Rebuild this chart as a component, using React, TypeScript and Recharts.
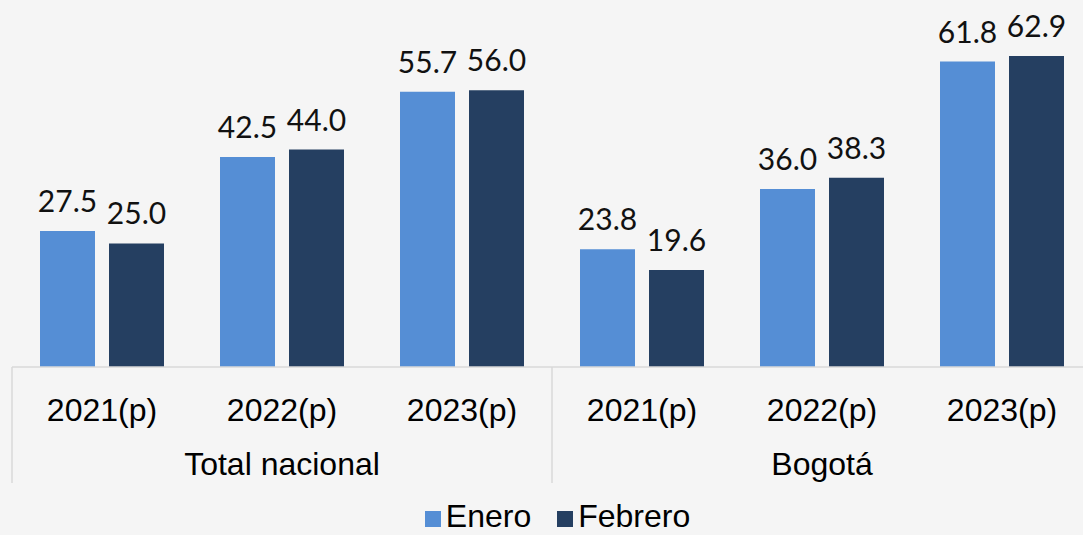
import React from 'react';
import { BarChart, Bar, XAxis, YAxis, Legend, LabelList } from 'recharts';

const years = ['2021(p)', '2022(p)', '2023(p)', '2021(p)', '2022(p)', '2023(p)'];
const groups = ['Total nacional', 'Total nacional', 'Total nacional', 'Bogotá', 'Bogotá', 'Bogotá'];
const enero = [27.5, 42.5, 55.7, 23.8, 36.0, 61.8];
const febrero = [25.0, 44.0, 56.0, 19.6, 38.3, 62.9];
const seriesNames = ['Enero', 'Febrero'];
const colors = ['#558ED5', '#253F61'];

const data = years.map((y, i) => ({ id: i, year: y, group: groups[i], enero: enero[i], febrero: febrero[i] }));

const AXIS_FONT = '"Liberation Sans", Arial, sans-serif';

const Tick = (props: any) => {
  const { x, y, index, payload } = props;
  const half = payload && payload.offset ? payload.offset : 90;
  const els: any[] = [];
  els.push(
    <text key="yr" x={x} y={y + 54} textAnchor="middle" fontFamily={AXIS_FONT} fontSize={32} fill="#000">
      {years[index]}
    </text>
  );
  if (index % 3 === 1) {
    els.push(
      <text key="gr" x={x} y={y + 108} textAnchor="middle" fontFamily={AXIS_FONT} fontSize={32} fill="#000">
        {groups[index]}
      </text>
    );
  }
  if (index % 3 === 0) {
    els.push(<line key="l0" x1={x - half} x2={x - half} y1={y} y2={y + 116} stroke="#D9D9D9" strokeWidth={1.5} />);
  }
  if (index === years.length - 1) {
    els.push(<line key="l1" x1={x + half} x2={x + half} y1={y} y2={y + 116} stroke="#D9D9D9" strokeWidth={1.5} />);
  }
  return <g>{els}</g>;
};

const LegendContent = () => (
  <div style={{ height: 52, display: 'flex', justifyContent: 'center', paddingLeft: 11, boxSizing: 'border-box' }}>
    {seriesNames.map((n, i) => (
      <div key={n} style={{ display: 'flex', alignItems: 'flex-start', marginLeft: i === 0 ? 0 : 26, paddingTop: 19 }}>
        <div style={{ width: 16, height: 16, background: colors[i], marginTop: 9, marginRight: 5 }} />
        <div style={{ fontFamily: AXIS_FONT, fontSize: 32, lineHeight: '28px', color: '#000' }}>{n}</div>
      </div>
    ))}
  </div>
);

const fmt = (v: any) => Number(v).toFixed(1);

export default function App() {
  return (
    <div style={{ position: 'absolute', left: 0, top: 0, width: 1083, height: 535, overflow: 'hidden', background: '#F5F5F5' }}>
      <BarChart
        width={1092}
        height={535}
        data={data}
        margin={{ top: 21, right: 0, left: 12, bottom: 0 }}
        barCategoryGap={28}
        barGap={14}
      >
        <XAxis
          dataKey="id"
          height={116}
          tickLine={false}
          tickSize={0}
          tickMargin={0}
          axisLine={{ stroke: '#D9D9D9', strokeWidth: 1.5 }}
          tick={<Tick />}
          interval={0}
        />
        <YAxis hide domain={[0, 70]} />
        <Legend verticalAlign="bottom" content={<LegendContent />} />
        <Bar dataKey="enero" name="Enero" fill={colors[0]} barSize={55} isAnimationActive={false}>
          <LabelList dataKey="enero" position="top" offset={19} formatter={fmt} style={{ fontFamily: 'Lato', fontSize: 30, fill: '#111' }} />
        </Bar>
        <Bar dataKey="febrero" name="Febrero" fill={colors[1]} barSize={55} isAnimationActive={false}>
          <LabelList dataKey="febrero" position="top" offset={19} formatter={fmt} style={{ fontFamily: 'Lato', fontSize: 30, fill: '#111' }} />
        </Bar>
      </BarChart>
    </div>
  );
}
